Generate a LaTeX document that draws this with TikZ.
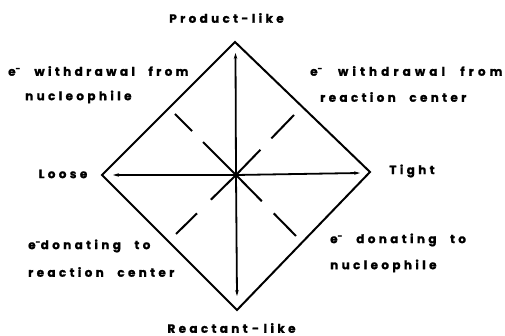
\documentclass[tikz,border=0pt]{standalone}
\usepackage{fontspec}
\newfontfamily\labfont{Poppins}[UprightFont={* Bold},UprightFeatures={FakeBold=1.2},LetterSpace=28,WordSpace=2.3]
\newfontfamily\labwide{Poppins}[UprightFont={* Bold},UprightFeatures={FakeBold=1.2},LetterSpace=34,WordSpace=2.3]
\usetikzlibrary{arrows.meta,calc}
\newcommand{\elec}{e\textsuperscript{-}}
\begin{document}
\begin{tikzpicture}[x=1pt,y=1pt,
  edge/.style={line width=2pt},
  axis/.style={line width=1.8pt,-{Stealth[length=6pt,width=3.5pt]}},
  dseg/.style={line width=2pt},
  lab/.style={font=\labfont\fontsize{12}{14}\selectfont,inner sep=0pt},
  labw/.style={font=\labwide\fontsize{12}{14}\selectfont,inner sep=0pt}]
\useasboundingbox (0,0) rectangle (505,336);
% vertices
\coordinate (T) at (235,294);
\coordinate (B) at (237,26);
\coordinate (L) at (102,161);
\coordinate (R) at (370,164);
\coordinate (C) at (236,161);
% arrow tips
\coordinate (Ta) at (235.5,283);
\coordinate (Ba) at (237,40);
\coordinate (La) at (113,161);
\coordinate (Ra) at (360,163);
% dashed ends
\coordinate (UL) at (175,222);
\coordinate (UR) at (294,221);
\coordinate (LL) at (176,102);
\coordinate (LR) at (296,100);
% diamond
\draw[edge,line join=miter] (T) -- (R) -- (B) -- (L) -- cycle;
% axes
\draw[axis] (C) -- (Ta);
\draw[axis] (C) -- (Ba);
\draw[axis] (C) -- (La);
\draw[axis] (C) -- (Ra);
% dashed diagonals
\draw[dseg] (C) -- ($(C)!0.54!(UL)$);
\draw[dseg] ($(C)!0.72!(UL)$) -- (UL);
\draw[dseg] (C) -- ($(C)!0.42!(UR)$);
\draw[dseg] ($(C)!0.61!(UR)$) -- (UR);
\draw[dseg] (C) -- ($(C)!0.42!(LL)$);
\draw[dseg] ($(C)!0.65!(LL)$) -- (LL);
\draw[dseg] (C) -- ($(C)!0.43!(LR)$);
\draw[dseg] ($(C)!0.63!(LR)$) -- (LR);
% labels
\node[lab] (prod) at (226.5,318) {Product-like};
\node[lab] (react) at (231.5,8) {Reactant\hspace{4.5pt}-\hspace{4.5pt}like};
\node[lab] (loose) at (63,162) {Loose};
\node[lab] (tight) at (412,165) {Tight};
\node[lab,anchor=west] (ul1) at (8,265) {\elec{} withdrawal from};
\node[lab,anchor=west] (ul2) at (25,239) {nucleophile};
\node[labw,anchor=west] (ur1) at (310,265) {\elec{} withdrawal from};
\node[lab,anchor=west] (ur2) at (320,239) {reaction center};
\node[lab,anchor=west] (ll1) at (28,90) {\elec{}donating to};
\node[lab,anchor=west] (ll2) at (28,64) {reaction center};
\node[lab,anchor=west] (lr1) at (330,96) {\elec{} donating to};
\node[lab,anchor=west] (lr2) at (330,70) {nucleophile};
\end{tikzpicture}
\end{document}
